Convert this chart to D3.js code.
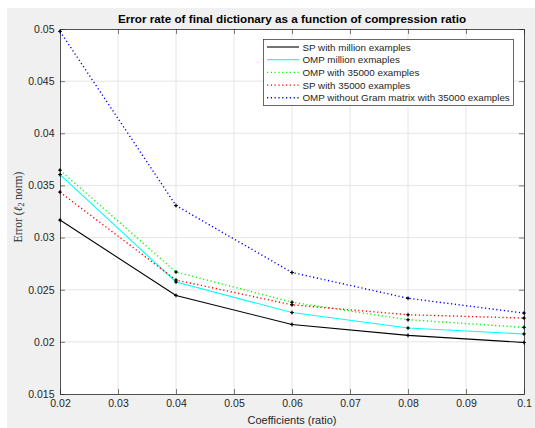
<!DOCTYPE html>
<html><head><meta charset="utf-8">
<script src="https://cdn.jsdelivr.net/npm/d3@7"></script>
<style>body{margin:0;background:#fff;} svg{display:block;}</style>
</head><body>
<script>
const xValues = [0.02, 0.04, 0.06, 0.08, 0.1];
const spMillion = [0.03168, 0.02445, 0.02167, 0.02062, 0.01994];
const ompMillion = [0.03604, 0.02574, 0.02281, 0.02133, 0.02076];
const omp35000 = [0.03646, 0.0267, 0.0238, 0.02212, 0.02139];
const sp35000 = [0.03436, 0.02593, 0.02355, 0.0226, 0.02228];
const ompNoGram35000 = [0.04977, 0.03307, 0.02665, 0.02418, 0.02276];
const seriesNames = ["SP with million examples","OMP million exmaples","OMP with 35000 examples","SP with 35000 examples","OMP without Gram matrix with 35000 examples"];
const xTicks = [0.02,0.03,0.04,0.05,0.06,0.07,0.08,0.09,0.1];
const yTicks = [0.015,0.02,0.025,0.03,0.035,0.04,0.045,0.05];
const titleText = "Error rate of final dictionary as a function of compression ratio";
const xLabel = "Coefficients (ratio)";

const series = [
  {name: seriesNames[0], values: spMillion, color: "#000000", dash: null},
  {name: seriesNames[1], values: ompMillion, color: "#00ffff", dash: null},
  {name: seriesNames[2], values: omp35000, color: "#00ff00", dash: "1.2,2.6"},
  {name: seriesNames[3], values: sp35000, color: "#ff0000", dash: "1.2,2.6"},
  {name: seriesNames[4], values: ompNoGram35000, color: "#0000ff", dash: "1.2,2.6"}
];

const W = 535, H = 428;
const L = 60, R = 524, T = 29, B = 394;
const svg = d3.select("body").append("svg").attr("width", W).attr("height", H)
  .style("font-family", "'Liberation Sans', Arial, Helvetica, sans-serif");
svg.append("rect").attr("x", 7).attr("y", 8).attr("width", W - 7).attr("height", H - 8).attr("fill", "#f0f0f0");
svg.append("rect").attr("x", L).attr("y", T).attr("width", R - L).attr("height", B - T).attr("fill", "#fff");

const x = d3.scaleLinear().domain([0.02, 0.1]).range([L, R]);
const y = d3.scaleLinear().domain([0.015, 0.05]).range([B, T]);

// grid
svg.append("g").selectAll("line").data(xTicks.slice(1, -1)).join("line")
  .attr("x1", d => x(d)).attr("x2", d => x(d)).attr("y1", T).attr("y2", B)
  .attr("stroke", "#e6e6e6").attr("stroke-width", 1);
svg.append("g").selectAll("line").data(yTicks.slice(1, -1)).join("line")
  .attr("y1", d => y(d)).attr("y2", d => y(d)).attr("x1", L).attr("x2", R)
  .attr("stroke", "#e6e6e6").attr("stroke-width", 1);

const fmt = d => String(+d.toFixed(3));
const axCol = "#262626";
function styleAxis(g) {
  g.select(".domain").attr("stroke", axCol).attr("stroke-width", 0.8);
  g.selectAll(".tick line").attr("stroke", axCol).attr("stroke-width", 0.6);
  g.selectAll(".tick text").attr("fill", axCol).attr("font-size", 10.5).attr("font-family", "'Liberation Sans', Arial, sans-serif");
}
svg.append("g").attr("transform", `translate(0,${B})`)
  .call(d3.axisBottom(x).tickValues(xTicks).tickFormat(fmt).tickSizeInner(-5).tickSizeOuter(0).tickPadding(6))
  .call(styleAxis);
svg.append("g").attr("transform", `translate(${L},0)`)
  .call(d3.axisLeft(y).tickValues(yTicks).tickFormat(fmt).tickSizeInner(-5).tickSizeOuter(0).tickPadding(5.5))
  .call(styleAxis);
svg.append("g").attr("transform", `translate(0,${T})`)
  .call(d3.axisTop(x).tickValues(xTicks).tickFormat("").tickSizeInner(-5).tickSizeOuter(0))
  .call(styleAxis);
svg.append("g").attr("transform", `translate(${R},0)`)
  .call(d3.axisRight(y).tickValues(yTicks).tickFormat("").tickSizeInner(-5).tickSizeOuter(0))
  .call(styleAxis);

// lines
const line = d3.line().x((d, i) => x(xValues[i])).y(d => y(d));
series.forEach(s => {
  svg.append("path").datum(s.values).attr("d", line)
    .attr("fill", "none").attr("stroke", s.color).attr("stroke-width", s.dash ? 1.4 : 1.1)
    .attr("stroke-dasharray", s.dash);
});
// markers
series.forEach(s => {
  const g = svg.append("g");
  g.selectAll("path").data(s.values).join("path")
    .attr("d", (d, i) => { const cx = x(xValues[i]), cy = y(d), r = 2; return `M${cx-r},${cy}H${cx+r}M${cx},${cy-r}V${cy+r}`; })
    .attr("stroke", "#000").attr("stroke-width", 0.9);
  g.selectAll("circle").data(s.values).join("circle")
    .attr("cx", (d, i) => x(xValues[i])).attr("cy", d => y(d)).attr("r", 1.1).attr("fill", "#000");
});

// title
svg.append("text").attr("x", (L + R) / 2).attr("y", 23).attr("text-anchor", "middle")
  .attr("font-size", 11.7).attr("font-weight", "bold").attr("fill", "#000").text(titleText);
// x label
svg.append("text").attr("x", (L + R) / 2).attr("y", 424).attr("text-anchor", "middle")
  .attr("font-size", 11).attr("fill", axCol).text(xLabel);
// y label
const yl = svg.append("text").attr("transform", `translate(22,207) rotate(-90)`).attr("text-anchor", "middle")
  .attr("font-size", 11.5).attr("fill", axCol).attr("font-family", "'Liberation Serif', 'DejaVu Serif', serif");
yl.append("tspan").text("Error (");
yl.append("tspan").attr("font-style", "italic").text("ℓ");
yl.append("tspan").attr("font-size", 8).attr("dy", 2).text("2");
yl.append("tspan").attr("dy", -2).text(" norm)");

// legend
const lg = svg.append("g");
lg.append("rect").attr("x", 263.5).attr("y", 39.5).attr("width", 250).attr("height", 66)
  .attr("fill", "#fff").attr("stroke", "#262626").attr("stroke-width", 0.7);
series.forEach((s, i) => {
  const yy = 47 + i * 12.7;
  lg.append("line").attr("x1", 267).attr("x2", 299).attr("y1", yy).attr("y2", yy)
    .attr("stroke", s.color).attr("stroke-width", s.dash ? 1.4 : 1.1).attr("stroke-dasharray", s.dash);
  lg.append("text").attr("x", 302.5).attr("y", yy + 3.6).attr("font-size", 9.8).attr("fill", axCol).text(s.name);
});
</script>
</body></html>
